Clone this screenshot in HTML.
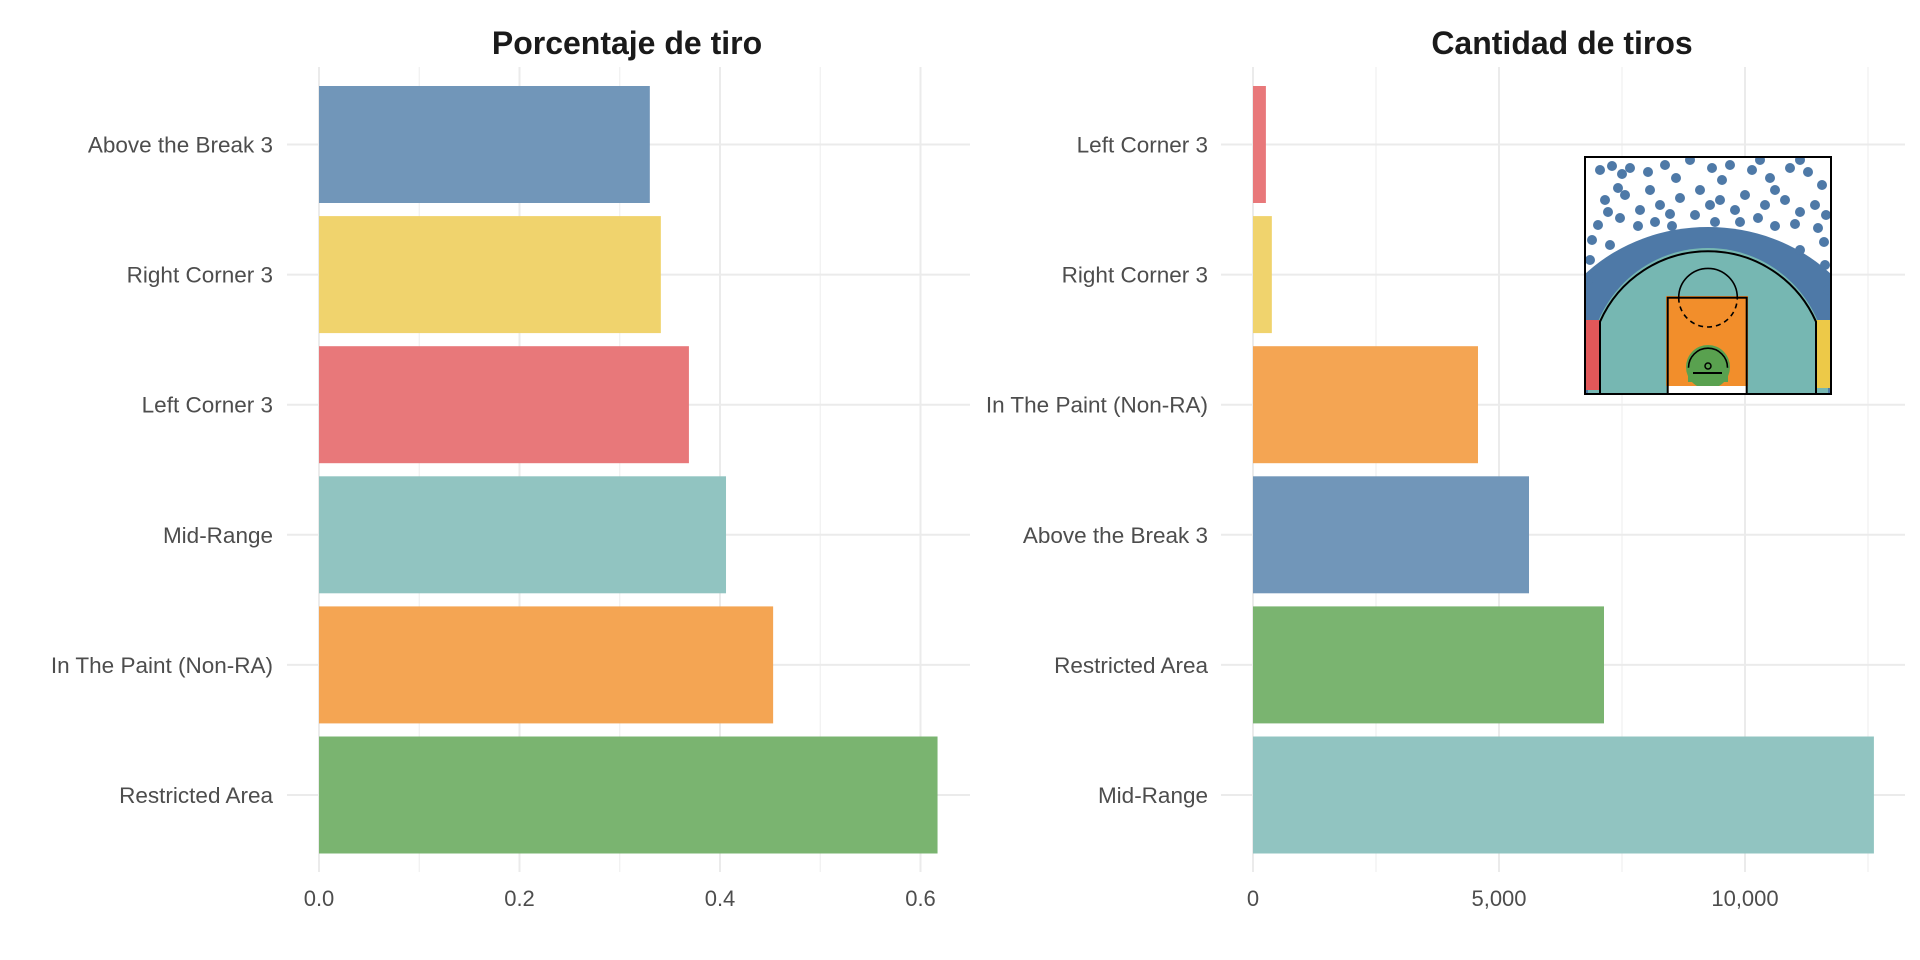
<!DOCTYPE html>
<html><head><meta charset="utf-8"><style>
html,body{margin:0;padding:0;background:#fff}
svg{display:block}
text{font-family:"Liberation Sans",Arial,sans-serif}
</style></head><body>
<svg id="chart" width="1920" height="960" viewBox="0 0 1920 960">
<text x="627" y="54" text-anchor="middle" font-size="32" font-weight="bold" fill="#1a1a1a">Porcentaje de tiro</text>
<text x="1562" y="54" text-anchor="middle" font-size="32" font-weight="bold" fill="#1a1a1a">Cantidad de tiros</text>
<g id="left"></g>
<g id="right"></g>
<g id="inset"></g>
</svg>
<script>
const leftCats = ["Above the Break 3","Right Corner 3","Left Corner 3","Mid-Range","In The Paint (Non-RA)","Restricted Area"];
const leftVals = [0.330,0.341,0.369,0.406,0.453,0.617];
const leftColors = ["#7196b9","#f0d36d","#e8787a","#91c4c1","#f4a553","#7ab470"];
const leftTicks = [0,0.2,0.4,0.6];
const leftTickLabels = ["0.0","0.2","0.4","0.6"];
const leftMinor = [0.1,0.3,0.5];

const rightCats = ["Left Corner 3","Right Corner 3","In The Paint (Non-RA)","Above the Break 3","Restricted Area","Mid-Range"];
const rightVals = [262,383,4573,5610,7134,12620];
const rightColors = ["#e8787a","#f0d36d","#f4a553","#7196b9","#7ab470","#91c4c1"];
const rightTicks = [0,5000,10000];
const rightTickLabels = ["0","5,000","10,000"];
const rightMinor = [2500,7500,12500];

const NS="http://www.w3.org/2000/svg";
function mk(tag,attrs,parent){const e=document.createElementNS(NS,tag);for(const k in attrs)e.setAttribute(k,attrs[k]);parent.appendChild(e);return e;}
const bandY = i => 144.5 + i*130.1;
const BAR_H = 117;

function panel(g, cats, vals, colors, ticks, tickLabels, minor, x0, perUnit, px0, px1, labelX, prefix){
  const xs = v => x0 + v*perUnit;
  const top=67, bot=872;
  minor.forEach(v=>{const l=mk('line',{x1:xs(v),x2:xs(v),y1:top,y2:bot,stroke:'#f0f0f0','stroke-width':1.2},g);
    
    });
  ticks.forEach(v=>{const l=mk('line',{x1:xs(v),x2:xs(v),y1:top,y2:bot,stroke:'#ebebeb','stroke-width':2},g);
    
    });
  cats.forEach((c,i)=>{const l=mk('line',{x1:px0,x2:px1,y1:bandY(i),y2:bandY(i),stroke:'#ebebeb','stroke-width':2},g);
    
    });
  cats.forEach((c,i)=>{
    const r=mk('rect',{x:xs(0),y:bandY(i)-BAR_H/2,width:xs(vals[i])-xs(0),height:BAR_H,fill:colors[i]},g);
    
    
    const t=mk('text',{x:labelX,y:bandY(i)+8,'text-anchor':'end','font-size':22.5,fill:'#4d4d4d'},g);
    t.textContent=c;
    
    
  });
  ticks.forEach((v,i)=>{const t=mk('text',{x:xs(v),y:906,'text-anchor':'middle','font-size':22,fill:'#4d4d4d'},g);
    t.textContent=tickLabels[i];
    
    });
}
panel(document.getElementById('left'),leftCats,leftVals,leftColors,leftTicks,leftTickLabels,leftMinor,319,1002.5,287,970,273,'pct');
panel(document.getElementById('right'),rightCats,rightVals,rightColors,rightTicks,rightTickLabels,rightMinor,1253,0.0492,1221,1905,1208,'count');

// court inset (decorative)
const ig=document.getElementById('inset');
const L=1585,R=1831,T=157,B=394,cx=1708,cy=367;
const defs=mk('defs',{},ig);
const cp=mk('clipPath',{id:'cclip'},defs);
mk('rect',{x:L,y:T,width:R-L,height:B-T},cp);
const cg=mk('g',{'clip-path':'url(#cclip)'},ig);
mk('rect',{x:L,y:T,width:R-L,height:B-T,fill:'#fff'},cg);
mk('ellipse',{cx:cx,cy:cy+12,rx:170,ry:152,fill:'#4e79a7'},cg);
const dots=[[1600,170],[1612,166],[1622,174],[1630,168],[1648,172],[1665,165],[1676,178],[1690,160],[1712,168],[1722,180],[1730,165],[1752,170],[1760,160],[1770,178],[1790,168],[1800,160],[1808,172],[1822,185],[1605,200],[1618,188],[1625,195],[1640,210],[1650,190],[1660,205],[1670,214],[1680,198],[1700,190],[1710,205],[1720,200],[1735,210],[1745,195],[1765,205],[1775,190],[1785,200],[1800,212],[1815,205],[1598,225],[1608,212],[1620,218],[1638,226],[1655,222],[1672,226],[1695,215],[1715,222],[1740,222],[1758,218],[1775,226],[1795,224],[1818,228],[1826,215],[1610,245],[1800,250],[1590,260],[1825,265],[1592,240],[1824,242],[1588,280],[1828,290]];
dots.forEach(d=>mk('circle',{cx:d[0],cy:d[1],r:5,fill:'#4e79a7'},cg));
mk('circle',{cx:cx,cy:cy,r:119,fill:'#76b7b2'},cg);
mk('rect',{x:1588,y:322,width:14,height:72,fill:'#76b7b2'},cg);
mk('rect',{x:1814,y:322,width:14,height:72,fill:'#76b7b2'},cg);
mk('rect',{x:1586,y:320,width:14,height:70,fill:'#e15759'},cg);
mk('rect',{x:1816,y:320,width:14,height:68,fill:'#edc948'},cg);
mk('rect',{x:1666,y:296,width:82,height:90,fill:'#f28e2b'},cg);
mk('circle',{cx:cx,cy:cy,r:22,fill:'#59a14f'},cg);
mk('rect',{x:1688,y:367,width:40,height:15,fill:'#59a14f'},cg);
mk('rect',{x:1668,y:386,width:78,height:8,fill:'#fff'},cg);
const lk={stroke:'#000','stroke-width':2,fill:'none'};
mk('rect',{x:L,y:T,width:R-L,height:B-T,...lk},ig);
mk('path',{d:`M1600 ${B} L1600 321.7 A118 118 0 0 1 1816 321.7 L1816 ${B}`,...lk},ig);
mk('rect',{x:1667.7,y:297.7,width:79,height:B-297.7,...lk},ig);
mk('path',{d:'M1678.7 297.7 A29.3 29.3 0 0 1 1737.3 297.7',stroke:'#000','stroke-width':1.6,fill:'none'},ig);
mk('path',{d:'M1678.7 297.7 A29.3 29.3 0 0 0 1737.3 297.7',stroke:'#000','stroke-width':1.6,fill:'none','stroke-dasharray':'5 4'},ig);
mk('path',{d:'M1688.5 367.7 A19.5 19.5 0 0 1 1727.5 367.7',stroke:'#000','stroke-width':1.6,fill:'none'},ig);
mk('line',{x1:1693,x2:1722,y1:373,y2:373,stroke:'#000','stroke-width':2},ig);
mk('circle',{cx:cx,cy:366,r:3,stroke:'#000','stroke-width':1.5,fill:'none'},ig);
</script>
</body></html>
